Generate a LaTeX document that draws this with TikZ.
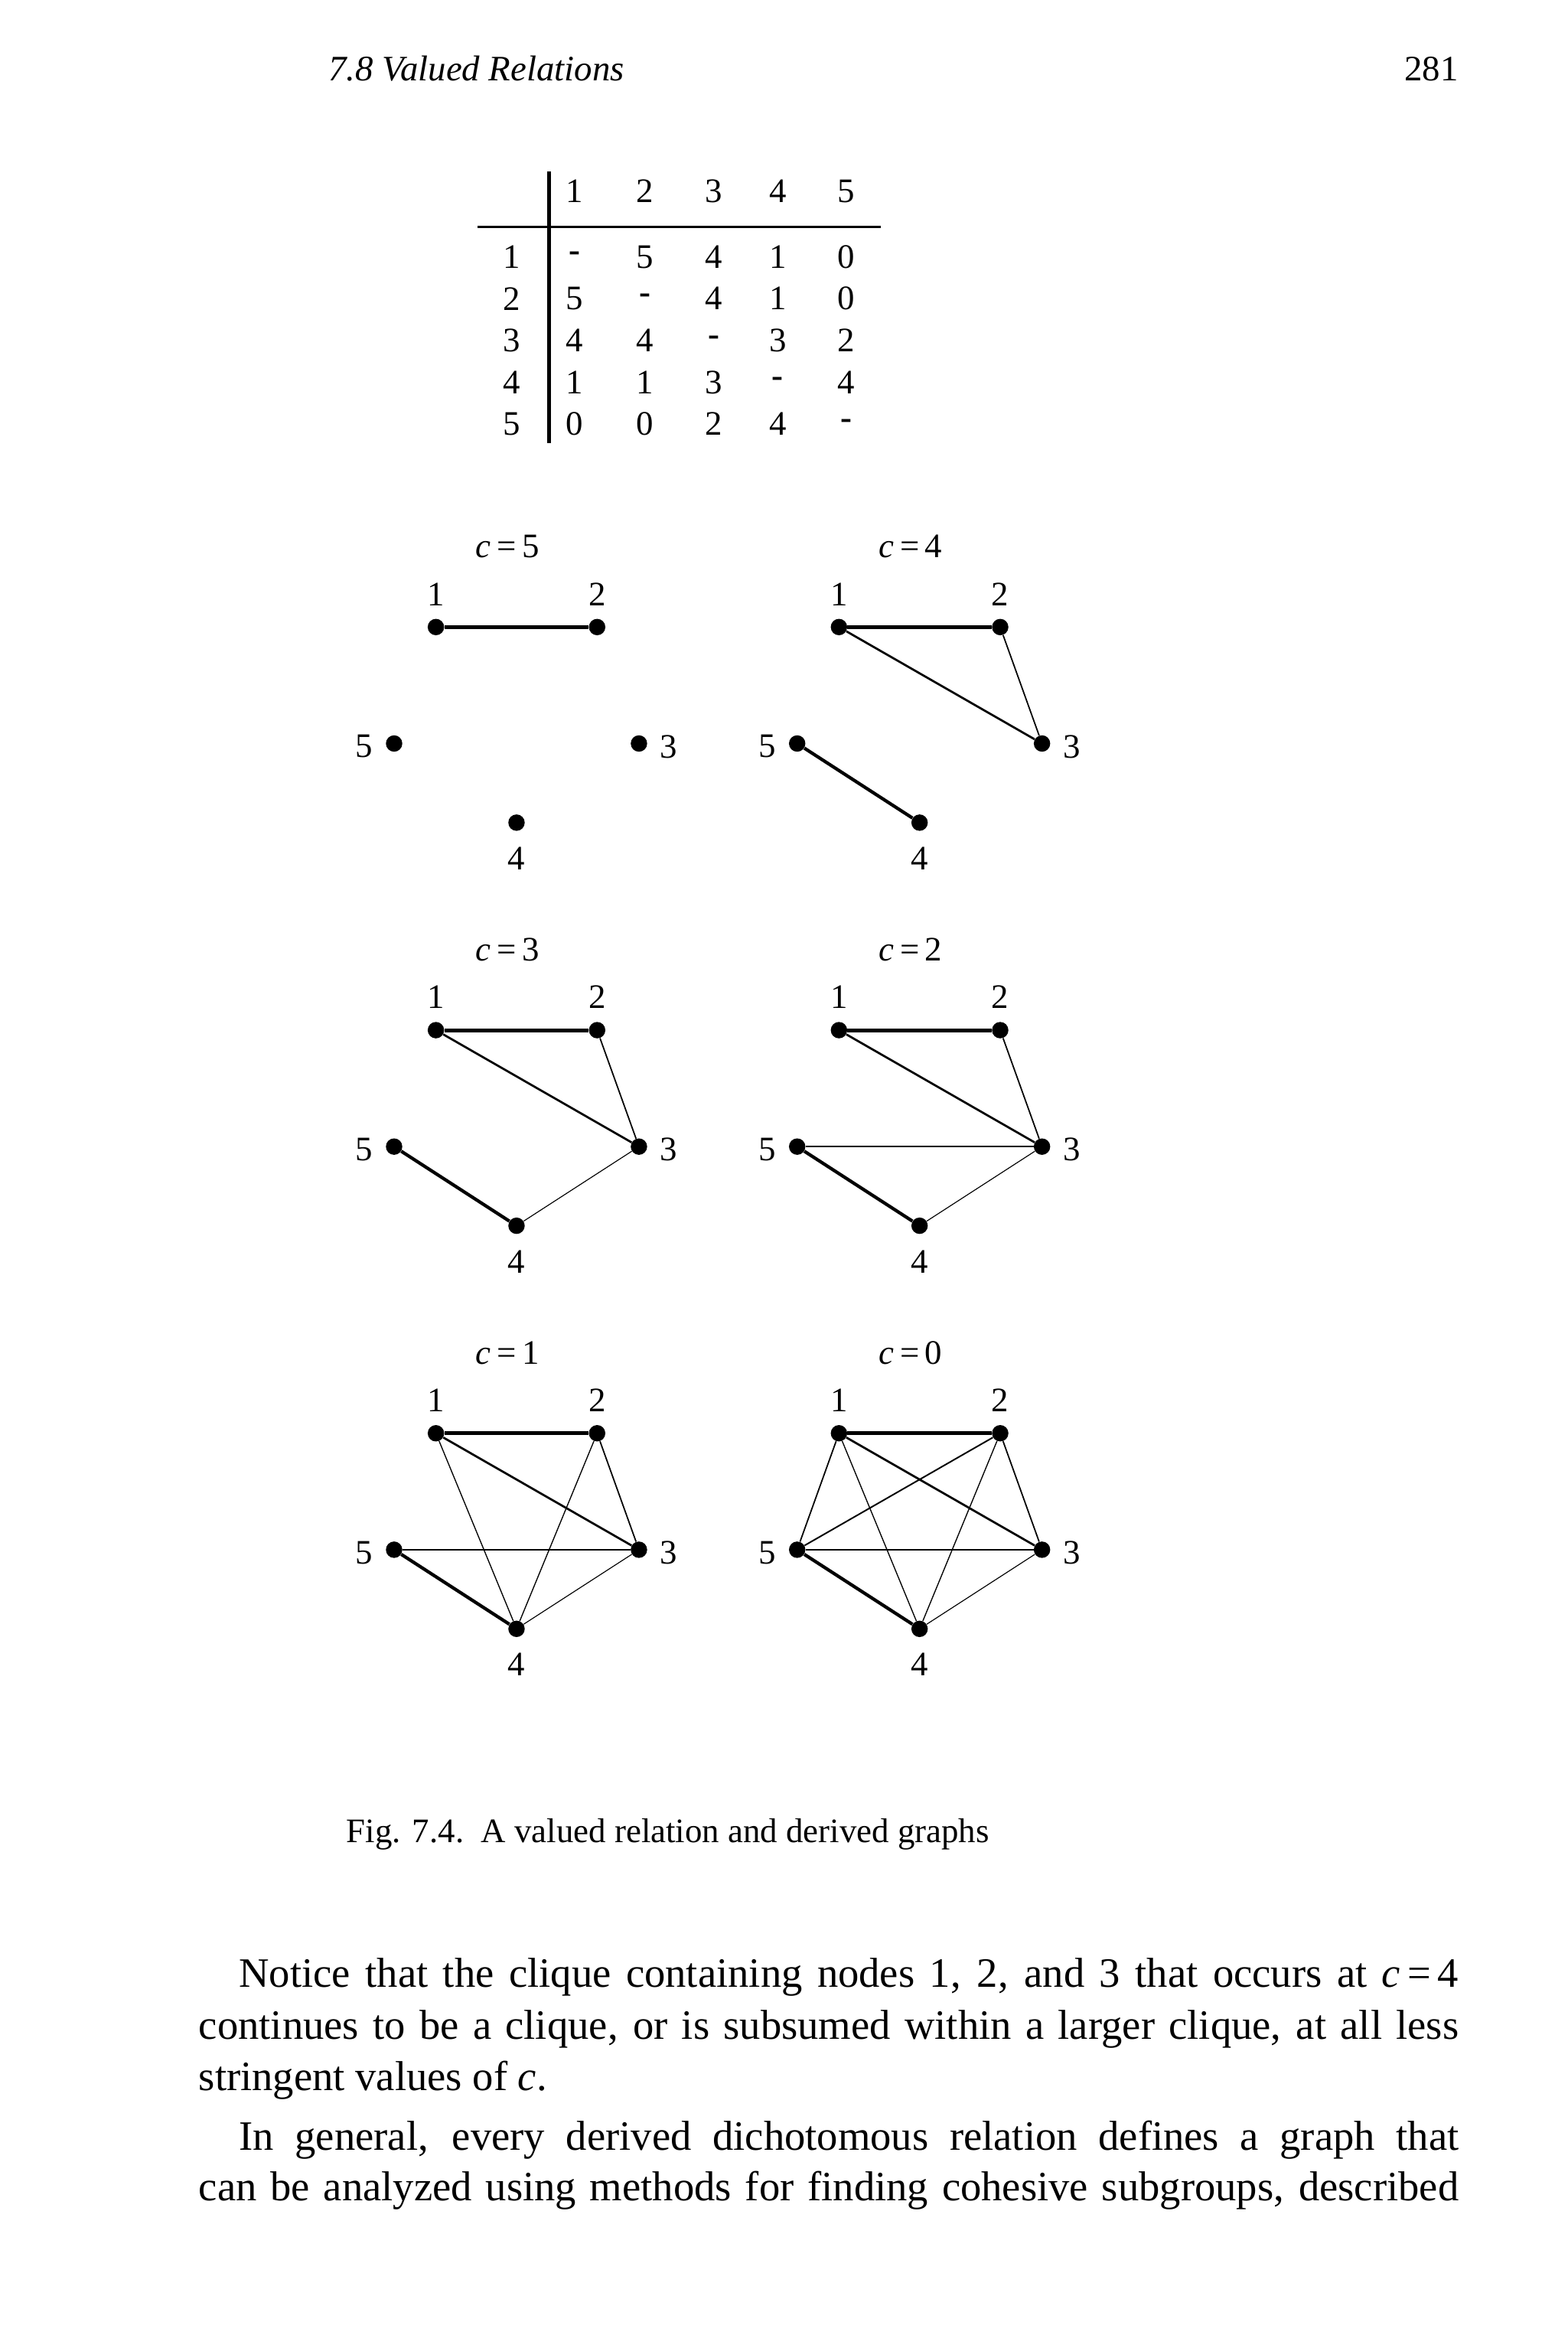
\documentclass[tikz,border=0pt]{standalone}
\usepackage{fontspec}
\setmainfont{Liberation Serif}
\newcommand{\cv}[1]{\textit{c}\,=\,#1}
\begin{document}
\begin{tikzpicture}[x=1pt,y=-1pt,
 lab/.style={inner sep=0pt,font=\fontsize{23}{26}\selectfont},
 dot/.style={circle,fill=black,inner sep=0pt,minimum size=11pt},
 body/.style={inner sep=0pt,anchor=base west,font=\fontsize{28}{32}\selectfont}]
\useasboundingbox (0,0) rectangle (1050,1564);
\node[lab,anchor=base west,font=\fontsize{24}{28}\selectfont\itshape] (hd) at (220,54) {7.8 Valued Relations};
\node[lab,anchor=base east,font=\fontsize{24}{28}\selectfont] (pg) at (977,54) {281};
% table
\draw[line width=2.5pt] (368,115) -- (368,297);
\draw[line width=1.3pt] (320,152) -- (590,152);
\foreach \t [count=\i] in {1,2,3,4,5}{
  \pgfmathsetmacro{\xx}{{385,432,478,521,567}[\i-1]}
  \node[lab] (ch\i) at (\xx,128) {\t};
  \node[lab] (rh\i) at (343,172+28*\i-28) {\t};
}
\def\row#1#2{\foreach \v [count=\j] in {#2}{\pgfmathsetmacro{\xx}{{385,432,478,521,567}[\j-1]}\node[lab] (t#1\j) at (\xx,172+28*#1-28) {\v};}}
\row{1}{\textbf{-},5,4,1,0}
\row{2}{5,\textbf{-},4,1,0}
\row{3}{4,4,\textbf{-},3,2}
\row{4}{1,1,3,\textbf{-},4}
\row{5}{0,0,2,4,\textbf{-}}
% graphs
\def\graph#1#2#3#4{% name, dx, dy, c
 \begin{scope}[shift={(#2,#3)}]
 \node[lab] (#1t) at (340,366) {\cv{#4}};
 \node[dot] (#1a) at (292,420) {}; \node[lab] (#1la) at (292,398) {1};
 \node[dot] (#1b) at (400,420) {}; \node[lab] (#1lb) at (400,398) {2};
 \node[dot] (#1c) at (428,498) {}; \node[lab] (#1lc) at (448,500) {3};
 \node[dot] (#1d) at (346,551) {}; \node[lab] (#1ld) at (346,575) {4};
 \node[dot] (#1e) at (264,498) {}; \node[lab] (#1le) at (244,500) {5};
 \ifnum#4<6 \draw[line width=2.6pt] (#1a)--(#1b);\fi
 \ifnum#4<5 \draw[line width=1.4pt] (#1a)--(#1c); \draw[line width=0.9pt] (#1b)--(#1c); \draw[line width=2.2pt] (#1d)--(#1e);\fi
 \ifnum#4<4 \draw[line width=0.6pt] (#1c)--(#1d);\fi
 \ifnum#4<3 \draw[line width=0.8pt] (#1c)--(#1e);\fi
 \ifnum#4<2 \draw[line width=0.7pt] (#1a)--(#1d); \draw[line width=0.7pt] (#1b)--(#1d);\fi
 \ifnum#4<1 \draw[line width=0.9pt] (#1a)--(#1e); \draw[line width=1pt] (#1b)--(#1e);\fi
 \end{scope}}
\graph{g5}{0}{0}{5}
\graph{g4}{270}{0}{4}
\graph{g3}{0}{270}{3}
\graph{g2}{270}{270}{2}
\graph{g1}{0}{540}{1}
\graph{g0}{270}{540}{0}
\node[lab,anchor=base west,font=\fontsize{23}{26}\selectfont] (cap) at (232,1234) {Fig. 7.4.\ \ A valued relation and derived graphs};
\node[body] (l1) at (160,1331) {\makebox[817pt][s]{Notice that the clique containing nodes 1, 2, and 3 that occurs at \cv{4}}};
\node[body] (l2) at (133,1366) {\makebox[844pt][s]{continues to be a clique, or is subsumed within a larger clique, at all less}};
\node[body] (l3) at (133,1400) {stringent values of \textit{c}.};
\node[body] (l4) at (160,1440) {\makebox[817pt][s]{In general, every derived dichotomous relation defines a graph that}};
\node[body] (l5) at (133,1474) {\makebox[844pt][s]{can be analyzed using methods for finding cohesive subgroups, described}};
\end{tikzpicture}
\end{document}
